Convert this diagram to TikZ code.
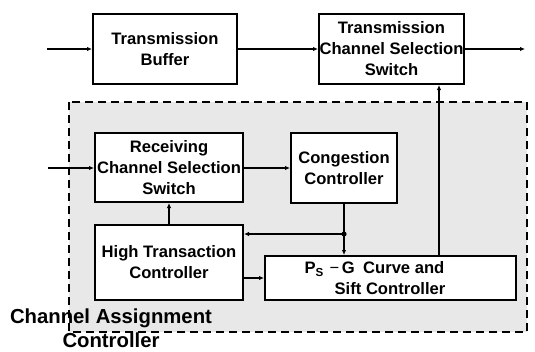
\documentclass[tikz,border=0pt]{standalone}
\usepackage{fontspec}
\setmainfont{Liberation Sans}
\usetikzlibrary{arrows.meta}
\begin{document}
\begin{tikzpicture}[x=1pt,y=-1pt,
  blk/.style={draw,line width=2pt,fill=white,inner sep=0pt,align=center,
    font=\fontsize{16.6}{21}\selectfont\bfseries},
  conn/.style={line width=1.5pt,-{Latex[length=5pt,width=4.5pt]}},
  plain/.style={line width=1.5pt},
  region/.style={draw,line width=2pt,fill=gray!18,dash pattern=on 8pt off 5pt},
  biglabel/.style={align=center,inner sep=0pt,font=\fontsize{20.3}{24}\selectfont\bfseries}]
\useasboundingbox (0,0) rectangle (535,351);
% region
\draw[region] (69,102) rectangle (527,332);
% boxes
\node[blk,minimum width=144pt,minimum height=70pt] (tb) at (165,49) {Transmission\\Buffer};
\node[blk,minimum width=145pt,minimum height=70pt] (tcss) at (391.5,49) {Transmission\\Channel Selection\\Switch};
\node[blk,minimum width=148pt,minimum height=69pt] (rcss) at (169,167.5) {Receiving\\Channel Selection\\Switch};
\node[blk,minimum width=106pt,minimum height=70pt] (cc) at (344,168) {Congestion\\Controller};
\node[blk,minimum width=148pt,minimum height=75pt] (ht) at (169,262.5) {High Transaction\\Controller};
\node[blk,minimum width=251pt,minimum height=44pt] (psg) at (390.5,278) {};
\node[font=\fontsize{16.6}{21}\selectfont\bfseries,inner sep=0pt] (psgA) at (374.5,269) {P\textsubscript{S}\,\textmd{\,\symbol{"2212}\,}G\enspace Curve and};
\node[font=\fontsize{16.6}{21}\selectfont\bfseries,inner sep=0pt] (psgB) at (390,289) {Sift Controller};
% label
\node[biglabel] (lab) at (111,328) {Channel Assignment\\Controller};
% coordinates
\coordinate (in1) at (47,49);
\coordinate (out1) at (525,49);
\coordinate (in2) at (48,168);
\coordinate (j) at (344,234);
\coordinate (u) at (439,0);
% connectors
\draw[conn] (in1) -- (tb.west);
\draw[conn] (tb) -- (tcss);
\draw[conn] (tcss.east) -- (out1);
\draw[conn] (in2) -- (rcss.west |- in2);
\draw[conn] (rcss.east |- in2) -- (cc.west |- in2);
\draw[conn] (ht) -- (rcss);
\draw[plain] (cc.south) -- (j);
\draw[conn] (j) -- (psg.north -| j);
\draw[conn] (j) -- (j -| ht.east);
\fill (j) circle (2.6pt);
\draw[conn] (ht.east |- psg.west) -- (psg.west);
\draw[conn] (psg.north -| u) -- (tcss.south -| u);
\end{tikzpicture}
\end{document}
